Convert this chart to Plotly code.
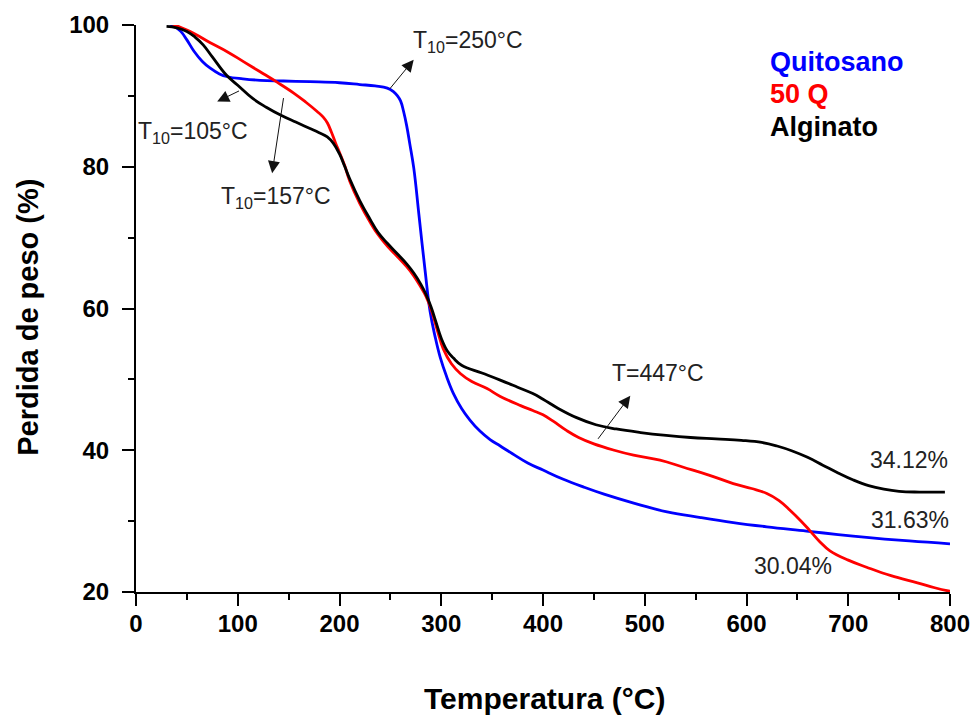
import plotly.graph_objects as go

# Thermogravimetric curves: temperature (°C) vs remaining weight (%)
temp_quitosano = [30, 37, 44, 50, 57, 65, 73, 82, 90, 105, 122, 145, 171, 200, 220, 235,
                  247, 253, 257, 260, 263, 266, 269, 273, 278, 284, 289, 294, 299, 305,
                  312, 320, 328, 338, 348, 358, 370, 385, 400, 420, 440, 460, 490, 522,
                  555, 587, 620, 659, 690, 718, 760, 800]
peso_quitosano = [100.3, 99.9, 99.1, 97.9, 96.3, 94.9, 93.9, 93.1, 92.7, 92.4, 92.2, 92.1,
                  92.0, 91.85, 91.6, 91.4, 91.1, 90.6, 90.0, 89.3, 87.8, 85.8, 83.3, 79.8,
                  73.3, 65.5, 59.6, 56.0, 53.1, 50.5, 48.0, 45.9, 44.3, 42.7, 41.5, 40.6,
                  39.5, 38.2, 37.2, 35.9, 34.8, 33.8, 32.5, 31.3, 30.5, 29.8, 29.2, 28.6,
                  28.1, 27.7, 27.2, 26.8]

temp_50q = [31, 40, 57, 73, 90, 106, 122, 139, 155, 167, 178, 184, 188, 192, 196, 200,
            205, 210, 220, 230, 238, 247, 257, 266, 273, 280, 285, 290, 296, 302, 310,
            319, 330, 345, 358, 378, 390, 400, 410, 423, 435, 450, 470, 489, 515, 538,
            563, 587, 605, 620, 632, 643, 653, 662, 672, 682, 700, 718, 742, 768, 785, 800]
peso_50q = [100.4, 99.9, 98.8, 97.5, 96.2, 94.8, 93.4, 91.9, 90.4, 89.1, 87.8, 87.0, 86.2,
            84.9, 83.4, 82.0, 80.2, 78.0, 74.8, 72.2, 70.4, 68.8, 67.3, 65.9, 64.6, 63.0,
            61.7, 59.9, 57.0, 54.3, 52.2, 50.8, 49.7, 48.7, 47.6, 46.3, 45.6, 45.0, 44.1,
            42.8, 41.8, 40.9, 40.0, 39.3, 38.6, 37.6, 36.5, 35.3, 34.6, 33.9, 32.9, 31.5,
            30.1, 28.7, 27.1, 25.8, 24.5, 23.5, 22.3, 21.3, 20.6, 20.1]

temp_alginato = [30, 40, 50, 58, 66, 75, 89, 100, 115, 128, 142, 157, 171, 180, 188, 194,
                 200, 205, 210, 220, 230, 238, 247, 257, 266, 273, 280, 285, 290, 295, 300,
                 306, 312, 320, 340, 358, 375, 390, 400, 415, 433, 452, 472, 496, 521, 545,
                 570, 595, 615, 630, 645, 660, 675, 690, 705, 720, 735, 750, 770, 795]
peso_alginato = [99.8, 99.6, 99.1, 98.3, 97.2, 95.5, 92.9, 91.5, 89.6, 88.4, 87.3, 86.3,
                 85.4, 84.8, 84.2, 83.3, 81.8, 80.1, 78.3, 75.2, 72.6, 70.7, 69.2, 67.7,
                 66.3, 65.0, 63.4, 62.0, 60.2, 58.0, 55.8, 54.0, 53.0, 52.0, 50.9, 49.9,
                 48.9, 48.0, 47.2, 45.9, 44.6, 43.6, 43.0, 42.5, 42.1, 41.8, 41.6, 41.4,
                 41.1, 40.6, 39.9, 39.0, 37.9, 36.8, 35.8, 35.0, 34.5, 34.2, 34.1, 34.1]

series_names = ["Quitosano", "50 Q", "Alginato"]
series_colors = ["#0000FF", "#FF0000", "#000000"]

# Temperature markers: (text, text x, text y, arrow tail x, tail y, head x, head y)
markers = [
    ("T<sub>10</sub>=250°C", 326, 97.7, 248.3, 90.8, 272.9, 95.1),
    ("T<sub>10</sub>=105°C", 56, 84.9, 102.7, 90.8, 79.8, 89.2),
    ("T<sub>10</sub>=157°C", 138, 75.7, 145.2, 89.9, 133.8, 79.1),
    ("T=447°C", 513, 50.9, 453, 41.4, 485.8, 47.7),
]

# Residual mass labels
residuos = [("34.12%", 760, 38.6), ("31.63%", 761, 30.2), ("30.04%", 646, 23.7)]

FONT = "Liberation Sans, Arial, sans-serif"

fig = go.Figure()
for name, t, w, c in zip(series_names,
                         [temp_quitosano, temp_50q, temp_alginato],
                         [peso_quitosano, peso_50q, peso_alginato],
                         series_colors):
    fig.add_trace(go.Scatter(x=t, y=w, mode="lines", name=name, showlegend=False,
                             line=dict(color=c, width=2.8, shape="spline", smoothing=1.2)))

annotations = []
for text, tx, ty, ax, ay, hx, hy in markers:
    annotations.append(dict(x=hx, y=hy, ax=ax, ay=ay, xref="x", yref="y",
                            axref="x", ayref="y", text="", showarrow=True,
                            arrowhead=2, arrowsize=2.4, arrowwidth=1, arrowcolor="#111"))
    annotations.append(dict(x=tx, y=ty, xref="x", yref="y", text=text, showarrow=False,
                            font=dict(family=FONT, size=23, color="#222"),
                            xanchor="center", yanchor="middle"))

for text, tx, ty in residuos:
    annotations.append(dict(x=tx, y=ty, xref="x", yref="y", text=text, showarrow=False,
                            font=dict(family=FONT, size=23, color="#222"),
                            xanchor="center", yanchor="middle"))

# Series names drawn as coloured labels
for i, (name, c) in enumerate(zip(series_names, series_colors)):
    annotations.append(dict(x=621, y=94.8 - i * 4.6, xref="x", yref="y",
                            text=f"<b>{name}</b>", showarrow=False,
                            font=dict(family=FONT, size=27, color=c),
                            xanchor="left", yanchor="middle"))

# Axis titles
annotations.append(dict(x=0.5015, y=-0.187, xref="paper", yref="paper",
                        text="<b>Temperatura (°C)</b>", showarrow=False,
                        font=dict(family=FONT, size=30, color="black"),
                        xanchor="center", yanchor="middle"))
annotations.append(dict(x=-0.133, y=0.485, xref="paper", yref="paper",
                        text="<b>Perdida de peso (%)</b>", showarrow=False, textangle=-90,
                        font=dict(family=FONT, size=29, color="black"),
                        xanchor="center", yanchor="middle"))

axis_common = dict(showline=True, linewidth=2, linecolor="black", showgrid=False,
                   zeroline=False, ticks="outside", ticklen=12, tickwidth=2,
                   tickcolor="black", automargin=False,
                   tickfont=dict(family=FONT, size=24, color="black", weight="bold"))

fig.update_layout(
    width=976, height=717,
    margin=dict(l=136, r=26, t=25, b=125, autoexpand=False),
    paper_bgcolor="white", plot_bgcolor="white",
    xaxis=dict(range=[0, 800], tickvals=[0, 100, 200, 300, 400, 500, 600, 700, 800],
               minor=dict(dtick=50, ticklen=6, tickwidth=2, tickcolor="black", ticks="outside"),
               ticklabelstandoff=-3, **axis_common),
    yaxis=dict(range=[20, 100], tickvals=[20, 40, 60, 80, 100],
               minor=dict(dtick=10, ticklen=6, tickwidth=2, tickcolor="black", ticks="outside"),
               ticklabelstandoff=8, **axis_common),
    annotations=annotations,
)

fig.write_html("out.html")
